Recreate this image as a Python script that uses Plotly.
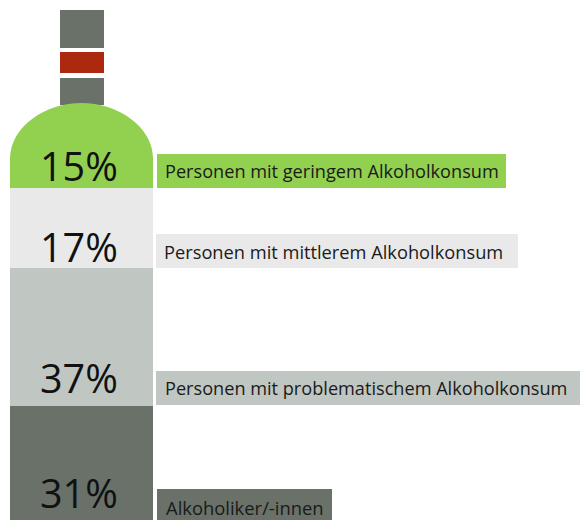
import plotly.graph_objects as go

# Bottle body, bottom to top (drawn heights)
groups = ["Alkoholiker/-innen", "Personen mit problematischem Alkoholkonsum",
          "Personen mit mittlerem Alkoholkonsum", "Personen mit geringem Alkoholkonsum"]
percent_labels = ["31%", "37%", "17%", "15%"]
body_heights = [114, 138, 80, 31]
body_colors = ["#697169", "#C0C6C2", "#E9E9E9", "#92D050"]

# Neck segments, bottom to top: (base, height)
neck_bases = [415, 447, 472]
neck_heights = [27, 21, 38]
neck_colors = ["#697169", "#AC280E", "#697169"]

# Label boxes
box_left = [157, 156, 156, 157]
box_width = [175, 424, 362, 349]
box_centre = [14, 132, 269, 349]
label_x = [164, 163, 162, 163]
label_y = [13, 132, 269, 349]
label_size = [18.4, 18.15, 18.25, 18.15]
percent_y = [27, 142, 273, 354]

fig = go.Figure()

base = 0
for h, c, g in zip(body_heights, body_colors, groups):
    fig.add_trace(go.Bar(x=[81.5], y=[h], base=[base], width=[143], name=g,
                         marker=dict(color=c, line=dict(width=0)), showlegend=False,
                         hoverinfo="skip"))
    base += h

for b, h, c in zip(neck_bases, neck_heights, neck_colors):
    fig.add_trace(go.Bar(x=[81.5], y=[h], base=[b], width=[44],
                         marker=dict(color=c, line=dict(width=0)), showlegend=False,
                         hoverinfo="skip"))

fig.add_trace(go.Bar(orientation="h", y=box_centre, x=box_width, base=box_left, width=34,
                     marker=dict(color=body_colors, line=dict(width=0)), showlegend=False,
                     hoverinfo="skip"))

shapes = [dict(type="path", xref="x", yref="y", layer="above", line=dict(width=0),
               fillcolor="#92D050",
               path="M10,361 C10,394 46,417 81.5,417 C117,417 153,394 153,361 Z")]

annotations = []
for lab, y in zip(percent_labels, percent_y):
    annotations.append(dict(x=79, y=y, xref="x", yref="y", text=lab, showarrow=False,
                            xanchor="center", yanchor="middle",
                            font=dict(family="Open Sans", size=39.5, color="#111111")))
for g, x, y, s in zip(groups, label_x, label_y, label_size):
    annotations.append(dict(x=x, y=y, xref="x", yref="y", text=g, showarrow=False,
                            xanchor="left", yanchor="middle",
                            font=dict(family="Open Sans", size=s, color="#1a1a1a")))

fig.update_layout(
    width=580, height=520, margin=dict(l=0, r=0, t=0, b=0),
    paper_bgcolor="white", plot_bgcolor="white", barmode="overlay", bargap=0,
    xaxis=dict(range=[0, 580], visible=False, fixedrange=True),
    yaxis=dict(range=[0, 520], visible=False, fixedrange=True),
    shapes=shapes, annotations=annotations,
)
fig.write_html("out.html", post_script="document.body.style.margin='0';",
               config=dict(displayModeBar=False))
